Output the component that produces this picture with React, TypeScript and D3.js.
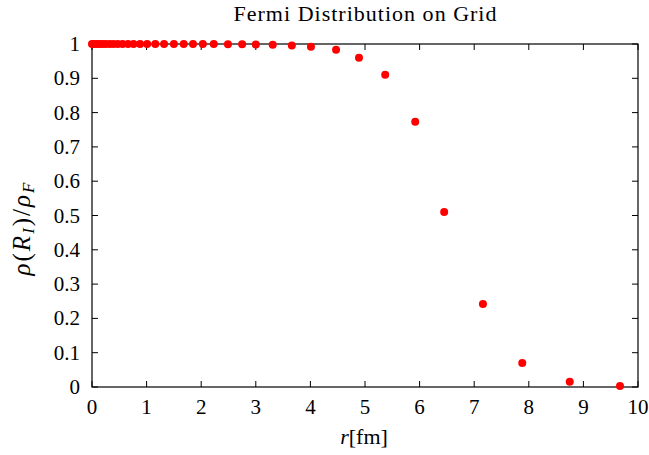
import React from "react";
import * as d3 from "d3";

const rValues = [
  0, 0.04, 0.09, 0.14, 0.19, 0.25, 0.32, 0.39, 0.47, 0.56, 0.66, 0.76, 0.88, 1.01,
  1.16, 1.32, 1.5, 1.68, 1.85, 2.03, 2.23, 2.49, 2.75, 3.0, 3.31, 3.66, 4.01, 4.47,
  4.89, 5.37, 5.92, 6.45, 7.16, 7.88, 8.75, 9.67,
];
const rhoValues = [
  1, 1, 1, 1, 1, 1, 1, 1, 1, 1, 1, 1, 1, 1,
  1, 1, 1, 0.9999, 0.9999, 0.9998, 0.9997, 0.9995, 0.9992, 0.9985, 0.9975, 0.9955, 0.992, 0.983,
  0.96, 0.91, 0.773, 0.51, 0.242, 0.07, 0.015, 0.003,
];
const xTicks = [0, 1, 2, 3, 4, 5, 6, 7, 8, 9, 10];
const yTicks = [0, 0.1, 0.2, 0.3, 0.4, 0.5, 0.6, 0.7, 0.8, 0.9, 1];
const titleText = "Fermi Distribution on Grid";

const W = 649, H = 455;
const L = 92, R = 638, T = 44, B = 387;
const FONT = "'Liberation Serif', 'DejaVu Serif', serif";
const FS = 21;

export default function App() {
  const x = d3.scaleLinear().domain([0, 10]).range([L, R]);
  const y = d3.scaleLinear().domain([0, 1]).range([B, T]);
  const fmt = (v: number) => (v === 0 || v === 1 ? String(v) : d3.format(".1f")(v));
  return (
    <svg width={W} height={H} style={{ position: "absolute", left: 0, top: 0, background: "#fff" }}>
      <rect x={0} y={0} width={W} height={H} fill="#fff" />
      {xTicks.map((t) => (
        <g key={"x" + t}>
          <line x1={x(t)} x2={x(t)} y1={B} y2={B - 6} stroke="#000" strokeWidth={1} />
          <line x1={x(t)} x2={x(t)} y1={T} y2={T + 6} stroke="#000" strokeWidth={1} />
          <text x={x(t)} y={414} textAnchor="middle" fontFamily={FONT} fontSize={FS}>{t}</text>
        </g>
      ))}
      {yTicks.map((t) => (
        <g key={"y" + t}>
          <line x1={L} x2={L + 6} y1={y(t)} y2={y(t)} stroke="#000" strokeWidth={1} />
          <line x1={R} x2={R - 6} y1={y(t)} y2={y(t)} stroke="#000" strokeWidth={1} />
          <text x={80} y={y(t) + 7} textAnchor="end" fontFamily={FONT} fontSize={FS}>{fmt(t)}</text>
        </g>
      ))}
      <rect x={L} y={T} width={R - L} height={B - T} fill="none" stroke="#000" strokeWidth={1.2} />
      {rValues.map((r, i) => (
        <circle key={i} cx={x(r)} cy={y(rhoValues[i])} r={4} fill="#ff0000" />
      ))}
      <text x={365} y={21} textAnchor="middle" fontFamily={FONT} fontSize={22} textLength={263} lengthAdjust="spacing">{titleText}</text>
      <text x={364} y={444} textAnchor="middle" fontFamily={FONT} fontSize={22}>
        <tspan fontStyle="italic">r</tspan>[fm]
      </text>
      <text transform="translate(30,228) rotate(-90)" textAnchor="middle" fontFamily={FONT} fontSize={25} letterSpacing={2}>
        <tspan fontStyle="italic">ρ</tspan>(<tspan fontStyle="italic">R</tspan>
        <tspan fontStyle="italic" fontSize={17} dy={4}>I</tspan>
        <tspan dy={-4}>)/</tspan><tspan fontStyle="italic">ρ</tspan>
        <tspan fontStyle="italic" fontSize={17} dy={4}>F</tspan>
      </text>
    </svg>
  );
}
